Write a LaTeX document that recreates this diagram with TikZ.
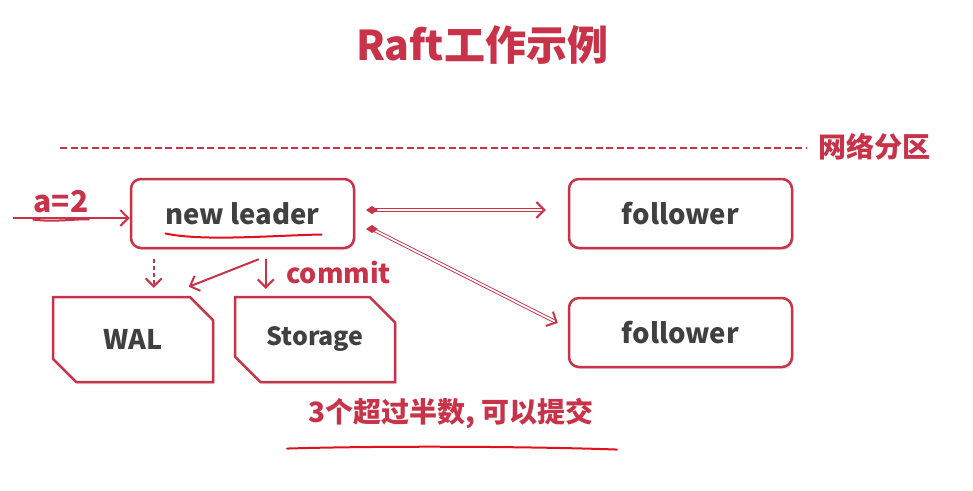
\documentclass[tikz,border=0pt]{standalone}
\usepackage{fontspec}
\setmainfont{Noto Sans CJK SC}
\usetikzlibrary{arrows.meta,shapes.misc,shadows,calc}
\definecolor{rr}{HTML}{C8334A}
\definecolor{ink}{HTML}{404040}
\definecolor{pen}{HTML}{E0101C}
\tikzset{
  box/.style={draw=rr, line width=2.5pt, rounded corners=10pt, fill=white,
    minimum width=223pt, minimum height=69pt, text=ink, font=\bfseries\fontsize{27.5}{30}\selectfont,
    drop shadow={opacity=0.22, shadow xshift=1.5pt, shadow yshift=-2pt}},
  store/.style={draw=rr, line width=2.5pt, chamfered rectangle,
    chamfered rectangle corners={north east,south west}, chamfered rectangle xsep=13pt, chamfered rectangle ysep=13pt,
    fill=white, minimum width=160pt, minimum height=85pt, inner sep=0pt, text=ink,
    drop shadow={opacity=0.22, shadow xshift=1.5pt, shadow yshift=-2pt}},
  redtext/.style={text=rr, font=\bfseries\fontsize{#1}{#1}\selectfont, inner sep=0pt},
  arr/.style={draw=rr, line width=2pt, -{Straight Barb[length=8pt,width=16pt,line width=2pt]}},
  dbl/.style={draw=rr, line width=0.9pt, double=white, double distance=1.8pt},
  penline/.style={draw=pen, line width=2pt, line cap=round}
}
\begin{document}
\begin{tikzpicture}[x=1pt,y=-1pt]
\useasboundingbox (0,0) rectangle (973,490);
\fill[white] (0,0) rectangle (973,490);
% title
\node[redtext=41] (title) at (482,45) {Raft工作示例};
% partition
\coordinate (d1) at (60,148);
\coordinate (d2) at (806,148);
\draw[rr, line width=2.8pt, dash pattern=on 7pt off 3.5pt] (d1) -- (d2);
\node[redtext=28] (part) at (874,147) {网络分区};
% nodes
\node[box] (leader) at (242.5,213.5) {new leader};
\node[box] (f1) at (680.5,213.5) {follower};
\node[box] (f2) at (680.5,332.5) {follower};
\node[store, font=\bfseries\fontsize{27}{30}\selectfont] (wal) at (133,339.5) {WAL};
\node[store, font=\bfseries\fontsize{25}{30}\selectfont] (sto) at (315,339.5) {Storage};
% pen underline under new leader
\draw[penline] ($(leader.center)+(-77,20)$) .. controls ($(leader.center)+(-40,28)$) and ($(leader.center)+(30,22)$) .. ($(leader.center)+(79,21)$);
% input a=2
\node[redtext=30] (a) at (61,202) {a=2};
\draw[penline, draw=rr] ($(a.south west)+(0,6)$) .. controls ($(a.south west)+(20,9)$) and ($(a.south east)+(-10,5)$) .. ($(a.south east)+(0,6)$);
\coordinate (in) at (13,218);
\draw[arr] (in) -- (leader.west |- in);
% to WAL / Storage
\draw[arr, dash pattern=on 4pt off 3pt] ($(leader.south west)+(24,10)$) -- ($(wal.north west)+(102,-8)$);
\draw[arr] ($(leader.south west)+(129,10)$) -- ($(wal.north west)+(137,-9)$);
\draw[arr] ($(leader.south west)+(136,10)$) -- ($(sto.north west)+(32,-7)$);
\node[redtext=27, anchor=west] (commit) at (286,272) {commit};
% double arrows to followers
\coordinate (s1) at (372,210);
\coordinate (s2) at (372,229);
\coordinate (e1) at ($(f1.west)+(-22,-3.5)$);
\coordinate (e2) at ($(f2.west)+(-10,-9.5)$);
\draw[dbl] (s1) -- ($(e1)+(-2,0)$);
\draw[rr, line width=2pt, -{Straight Barb[length=8pt,width=16pt,line width=2pt]}] ($(e1)+(-3,0)$) -- (e1);
\fill[rr] (s1) ++(-6,0) -- ++(6,-4) -- ++(6,4) -- ++(-6,4) -- cycle;
\draw[dbl] (s2) -- ($(e2)!2pt!(s2)$);
\draw[rr, line width=2pt, -{Straight Barb[length=8pt,width=16pt,line width=2pt]}] ($(e2)!3pt!(s2)$) -- (e2);
\fill[rr] (s2) ++(-6,0) -- ++(6,-4) -- ++(6,4) -- ++(-6,4) -- cycle;
% bottom conclusion
\node[redtext=28] (concl) at (451,414) {3个超过半数, 可以提交};
\draw[penline] ($(concl.south west)+(-21,19)$) .. controls ($(concl.south west)+(80,16)$) and ($(concl.south east)+(-60,17)$) .. ($(concl.south east)+(23,20)$);
\end{tikzpicture}
\end{document}
